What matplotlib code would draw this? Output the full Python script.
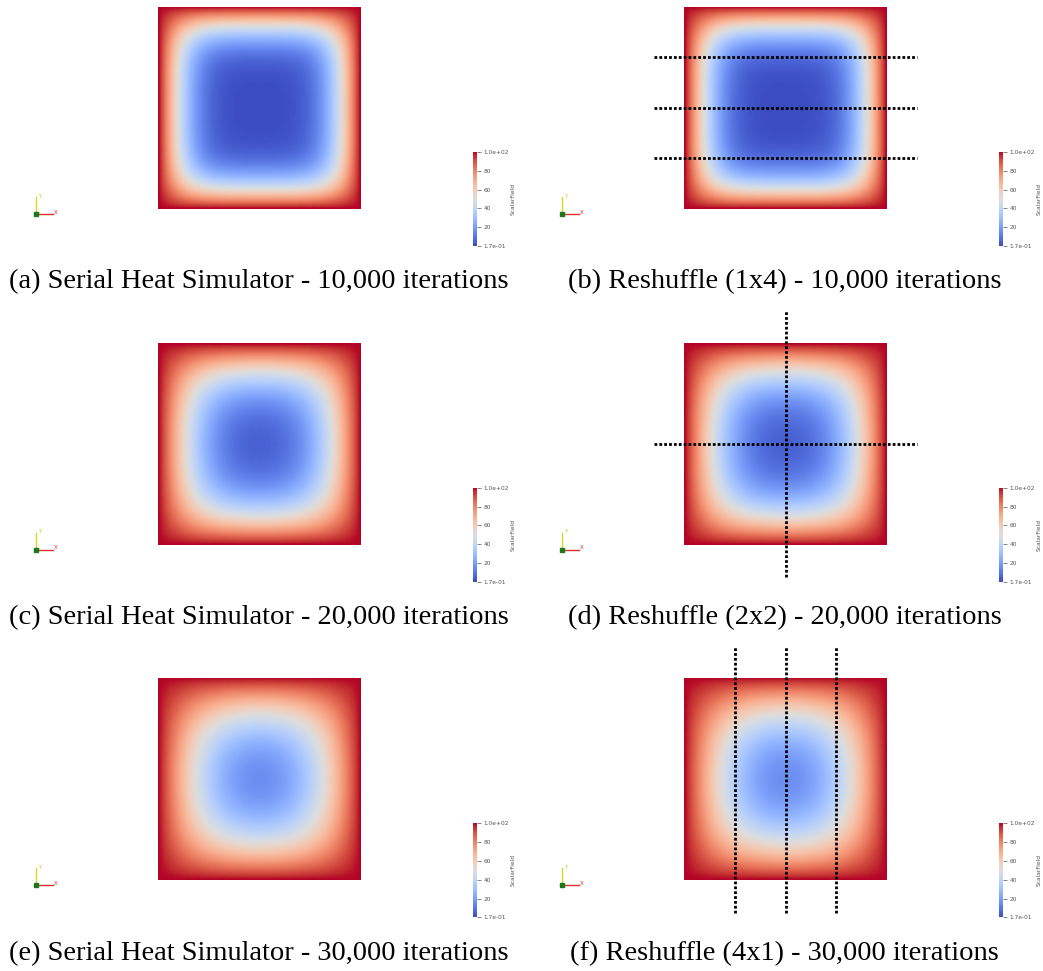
import numpy as np
import matplotlib
matplotlib.use("Agg")
from matplotlib import pyplot as plt

# simulation setup (unit square, hot walls, cold interior)
grid_n = 101
rate = 0.01          # alpha*dt/dx^2 for the explicit update
wall_temp = 100.0
start_temp = 0.0

iterations = [10000, 20000, 30000]
decomps = [(1, 4), (2, 2), (4, 1)]   # (columns, rows) of ranks
cbar_min = 0.17
cbar_max = 100.0
cbar_ticks = [0.17, 20, 40, 60, 80, 100]
cbar_labels = ["1.7e-01", "20", "40", "60", "80", "1.0e+02"]

serial_captions = ["(a) Serial Heat Simulator - 10,000 iterations",
                   "(c) Serial Heat Simulator - 20,000 iterations",
                   "(e) Serial Heat Simulator - 30,000 iterations"]
reshuffle_captions = ["(b) Reshuffle (1x4) - 10,000 iterations",
                      "(d) Reshuffle (2x2) - 20,000 iterations",
                      "(f) Reshuffle (4x1) - 30,000 iterations"]

W, H = 1043, 971


def run_heat(n, r, checkpoints):
	u = np.full((n, n), start_temp)
	u[0, :] = u[-1, :] = u[:, 0] = u[:, -1] = wall_temp
	out = {}
	step = 0
	for target in sorted(checkpoints):
		while step < target:
			c = u[1:-1, 1:-1]
			u[1:-1, 1:-1] = c + r * (u[2:, 1:-1] + u[:-2, 1:-1] + u[1:-1, 2:] + u[1:-1, :-2] - 4 * c)
			step += 1
		out[target] = u.copy()
	return out


def px_axes(fig, x0, y0, x1, y1, **kw):
	return fig.add_axes([x0 / W, 1 - y1 / H, (x1 - x0) / W, (y1 - y0) / H], **kw)


def main():
	fields = run_heat(grid_n, rate, iterations)

	fig = plt.figure(figsize=(W / 100, H / 100), dpi=100)
	overlay = fig.add_axes([0, 0, 1, 1], zorder=0)
	overlay.set_xlim(0, W)
	overlay.set_ylim(H, 0)
	overlay.axis("off")

	col_dx = 526
	row_dy = 335.7
	ext = 0.15

	for row in range(3):
		dy = row * row_dy
		u = fields[iterations[row]]
		for col in range(2):
			dx = col * col_dx
			ax = px_axes(fig, 158 + dx, 7 + dy, 361 + dx, 209 + dy, zorder=1)
			im = ax.imshow(u, cmap="coolwarm", vmin=cbar_min, vmax=cbar_max, origin="lower",
						   extent=(0, 1, 0, 1), interpolation="bilinear", aspect="auto")
			ax.set_xlim(0, 1)
			ax.set_ylim(0, 1)
			ax.axis("off")

			if col == 1:
				nx, ny = decomps[row]
				dots = dict(color="black", lw=2.0, linestyle=(0, (1.0, 0.75)),
							dash_capstyle="butt", clip_on=False, zorder=5)
				for i in range(1, nx):
					ax.plot([i / nx, i / nx], [-ext - 0.01, 1 + ext + 0.01], **dots)
				for j in range(1, ny):
					ax.plot([-ext, 1 + ext], [j / ny, j / ny], **dots)

			# colour legend
			cax = px_axes(fig, 473 + dx, 152 + dy, 477 + dx, 246 + dy, zorder=1)
			cb = fig.colorbar(im, cax=cax)
			cb.outline.set_visible(False)
			cb.set_ticks(cbar_ticks)
			cb.set_ticklabels(cbar_labels)
			cax.tick_params(direction="out", length=3, width=0.5, colors="#555555",
							labelsize=4.2, pad=1.5)
			cax.set_ylabel("ScalarField", fontsize=4.2, color="#555555", labelpad=1.5)

			# orientation glyph
			ox, oy = 36 + dx, 214 + dy
			overlay.plot([ox, ox], [oy, oy - 17], color="#d8d820", lw=1.0)
			overlay.plot([ox, ox + 17], [oy, oy], color="#e03030", lw=1.0)
			overlay.plot([ox], [oy], marker="s", ms=3, color="#1a7a1a")
			overlay.text(ox + 2, oy - 18, "Y", color="#c8c818", fontsize=4, ha="left", va="center")
			overlay.text(ox + 18, oy - 2, "X", color="#d03030", fontsize=4, ha="left", va="center")

		overlay.text(258.5, 282 + dy, serial_captions[row], fontsize=20.5, family="Liberation Serif",
					 ha="center", va="center", color="black")
		overlay.text(784.5, 282 + dy, reshuffle_captions[row], fontsize=20.5, family="Liberation Serif",
					 ha="center", va="center", color="black")

	fig.savefig("out.png", dpi=100)


if __name__ == "__main__":
	main()
